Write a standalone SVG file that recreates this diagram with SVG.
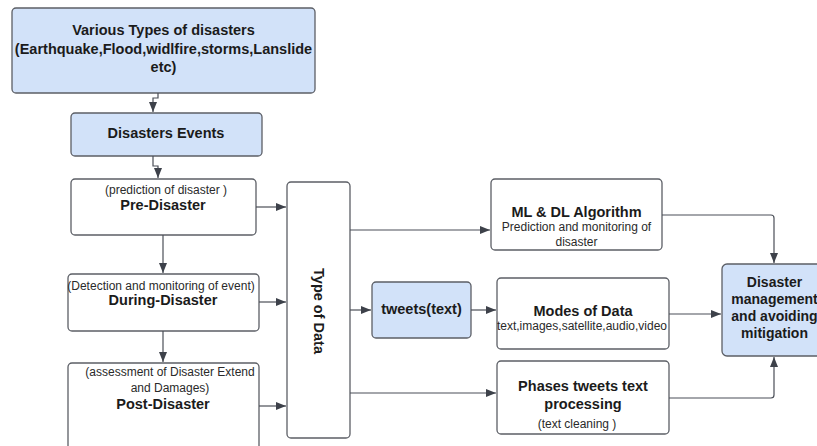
<svg xmlns="http://www.w3.org/2000/svg" width="817" height="446" viewBox="0 0 817 446">
  <style>
    .box { fill: #ffffff; stroke: #5c5f66; stroke-width: 1.3; }
    .blue { fill: #d2e2f9; }
    .t { font-family: "Liberation Sans", Arial, sans-serif; font-weight: bold; font-size: 14.5px; fill: #1b1b1b; text-anchor: middle; }
    .s { font-family: "Liberation Sans", Arial, sans-serif; font-size: 12px; fill: #2a2a2a; text-anchor: middle; }
    .link { fill: none; stroke: #4b4f58; stroke-width: 1.2; marker-end: url(#arrow); }
  </style>
  <defs>
    <marker id="arrow" markerUnits="userSpaceOnUse" markerWidth="10" markerHeight="8" viewBox="0 0 10 8" refX="10" refY="4" orient="auto">
      <path d="M0,0 L10,4 L0,8 Z" fill="#3d414a"/>
    </marker>
  </defs>

  <rect width="817" height="446" fill="#ffffff"/>

  <g id="disaster-types">
    <rect class="box blue" x="12" y="8" width="303" height="85" rx="4"/>
    <text class="t" x="163.5" y="35">Various Types of disasters</text>
    <text class="t" x="163.5" y="54">(Earthquake,Flood,widlfire,storms,Lanslide</text>
    <text class="t" x="163.5" y="72">etc)</text>
  </g>

  <g id="disaster-events">
    <rect class="box blue" x="71" y="113" width="191" height="43" rx="4"/>
    <text class="t" x="166" y="138">Disasters Events</text>
  </g>

  <g id="pre-disaster">
    <rect class="box" x="71" y="179" width="185" height="56" rx="4"/>
    <text class="s" x="166" y="193.5">(prediction of disaster )</text>
    <text class="t" x="163" y="210">Pre-Disaster</text>
  </g>

  <g id="during-disaster">
    <rect class="box" x="68" y="274" width="191" height="57" rx="4"/>
    <text class="s" x="161" y="289.5">(Detection and monitoring of event)</text>
    <text class="t" x="163" y="305">During-Disaster</text>
  </g>

  <g id="post-disaster">
    <rect class="box" x="68" y="363" width="191" height="90" rx="4"/>
    <text class="s" x="170" y="376">(assessment of Disaster Extend</text>
    <text class="s" x="170" y="392">and Damages)</text>
    <text class="t" x="163" y="409">Post-Disaster</text>
  </g>

  <g id="type-of-data">
    <rect class="box" x="287" y="182" width="63" height="256" rx="4"/>
    <text class="t" transform="translate(319,311) rotate(90)" x="0" y="5">Type of Data</text>
  </g>

  <g id="ml-dl">
    <rect class="box" x="491" y="179" width="171" height="71" rx="4"/>
    <text class="t" x="576.5" y="217">ML &amp; DL Algorithm</text>
    <text class="s" x="576.5" y="231">Prediction and monitoring of</text>
    <text class="s" x="576.5" y="246">disaster</text>
  </g>

  <g id="tweets">
    <rect class="box blue" x="372" y="282" width="99" height="56" rx="4"/>
    <text class="t" x="421.5" y="314">tweets(text)</text>
  </g>

  <g id="modes-of-data">
    <rect class="box" x="497" y="278" width="172" height="71" rx="4"/>
    <text class="t" x="583" y="316">Modes of Data</text>
    <text class="s" x="582" y="330">text,images,satellite,audio,video</text>
  </g>

  <g id="phases">
    <rect class="box" x="497" y="361" width="172" height="73" rx="4"/>
    <text class="t" x="583" y="391">Phases tweets text</text>
    <text class="t" x="583" y="409">processing</text>
    <text class="s" x="577" y="428">(text cleaning )</text>
  </g>

  <g id="disaster-management">
    <rect class="box blue" x="722" y="264" width="110" height="92" rx="5"/>
    <text class="t" style="font-size:14px" x="774.5" y="287">Disaster</text>
    <text class="t" style="font-size:14px" x="774.5" y="304">management</text>
    <text class="t" style="font-size:14px" x="774.5" y="321">and avoiding</text>
    <text class="t" style="font-size:14px" x="774.5" y="338">mitigation</text>
  </g>

  <g id="connectors">
    <path class="link" d="M158,93 V98 H153 V112"/>
    <path class="link" d="M153,156 V166 H158 V178"/>
    <path class="link" d="M163,235 V273"/>
    <path class="link" d="M163,331 V362"/>
    <path class="link" d="M256,207 H286"/>
    <path class="link" d="M259,302 H286"/>
    <path class="link" d="M259,406 H286"/>
    <path class="link" d="M350,230 H490"/>
    <path class="link" d="M350,310 H371"/>
    <path class="link" d="M471,310 H496"/>
    <path class="link" d="M350,393 H496"/>
    <path class="link" d="M662,215 H771 Q774,215 774,218 V263"/>
    <path class="link" d="M669,314 H721"/>
    <path class="link" d="M669,398 H771 Q774,398 774,395 V357"/>
  </g>
</svg>
